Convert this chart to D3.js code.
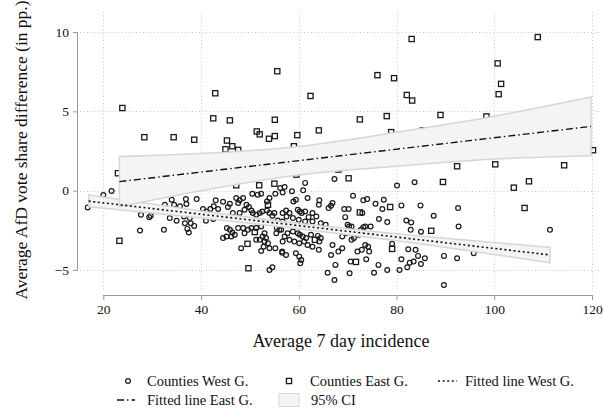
<!DOCTYPE html>
<html><head><meta charset="utf-8">
<script src="https://cdn.jsdelivr.net/npm/d3@7"></script>
<style>body{margin:0;background:#fff}svg{display:block}text{font-family:"Liberation Serif","Times New Roman",serif;fill:#111}</style>
</head><body><svg id="c" width="604" height="408"></svg>
<script>
const xTicks = [20, 40, 60, 80, 100, 120];
const yTicks = [-5, 0, 5, 10];
const yTickLabels = ["\u22125", "0", "5", "10"];

const westX = [16.8,20.0,21.7,27.7,29.4,29.7,27.5,32.4,33.6,35.0,34.0,32.6,34.5,35.7,36.9,37.0,39.1,36.5,37.7,36.7,37.9,38.6,37.2,37.5,40.4,41.1,42.5,41.0,
50.5,51.6,52.3,54.0,53.5,55.2,56.2,47.2,47.9,48.6,47.6,49.3,45.9,45.5,44.5,43.0,42.6,43.5,41.9,46.5,47.9,48.9,49.8,50.3,50.6,51.3,52.0,52.5,53.5,54.0,54.6,55.0,55.7,56.4,56.7,
45.3,45.9,46.4,46.9,44.5,45.2,46.2,47.6,48.6,48.9,49.6,50.3,51.3,52.3,53.0,52.6,53.3,53.0,53.7,52.8,52.3,54.0,55.2,56.6,56.0,55.4,55.5,48.2,51.3,52.0,54.0,54.6,
61.3,57.1,56.7,58.6,60.9,61.8,58.9,59.4,64.2,64.1,66.9,66.6,66.1,71.1,73.2,74.0,69.3,70.2,69.5,73.0,
56.7,57.4,58.1,57.5,59.8,60.2,60.6,61.3,62.0,62.8,63.6,58.8,60.0,61.3,62.8,64.5,65.5,64.9,
56.4,57.1,57.7,58.8,59.8,60.2,60.8,61.5,62.5,63.9,64.5,64.2,62.8,61.8,61.1,60.1,59.1,58.1,56.7,56.6,57.4,59.4,60.1,60.5,60.3,64.1,
66.9,66.6,68.1,68.9,65.9,67.5,67.3,68.9,69.6,70.3,70.0,70.8,71.1,71.3,70.8,72.3,72.7,73.2,73.6,74.2,74.4,72.9,73.8,70.6,70.4,72.0,74.7,73.6,67.3,
80.1,83.7,75.7,77.4,77.1,81.0,84.9,87.6,92.6,76.4,78.1,82.0,83.0,82.9,85.0,92.7,79.1,82.4,83.9,84.4,85.8,81.0,82.7,83.5,85.0,82.2,80.6,78.1,76.3,75.4,89.7,92.4,89.7,95.8,111.4];
const westY = [-1.06,-0.27,-0.02,-1.52,-1.67,-1.58,-2.51,-2.47,-1.73,-1.90,-0.57,-0.89,-0.89,-0.99,-0.53,-0.84,-0.53,-1.63,-1.73,-2.05,-2.05,-2.22,-2.41,-2.64,-1.16,-1.31,-1.79,-1.90,
-0.19,-0.25,-0.19,-0.46,-0.68,-0.19,0.17,-0.46,-0.61,-0.46,-0.78,-0.89,-0.82,-1.03,-0.70,-0.61,-0.99,-1.16,-1.16,-1.41,-1.41,-1.20,-1.03,-1.25,-1.41,-1.52,-1.41,-1.31,-1.25,-1.41,-1.58,-1.41,-1.88,-2.15,-1.94,
-2.36,-2.47,-2.64,-2.78,-2.99,-2.89,-2.89,-2.36,-2.36,-2.68,-2.47,-2.36,-2.36,-2.26,-2.68,-2.89,-2.99,-3.21,-3.31,-3.53,-3.80,-3.63,-3.63,-3.91,-2.47,-2.68,-2.36,-3.63,-3.10,-3.10,-5.00,-4.83,
0.49,0.23,-0.11,-0.04,0.02,-0.46,-0.68,-0.57,-0.61,-0.89,-0.78,-0.95,-1.10,-0.32,-0.61,-0.53,-1.16,-1.16,-1.67,-1.41,
-1.41,-1.25,-1.41,-1.63,-1.20,-1.31,-1.41,-1.31,-1.67,-1.41,-1.63,-1.73,-1.84,-1.94,-1.94,-2.05,-2.15,-2.36,
-2.47,-2.89,-2.68,-2.57,-2.68,-2.78,-2.89,-2.99,-2.78,-2.85,-2.99,-3.21,-3.53,-3.42,-3.21,-3.31,-3.21,-3.10,-3.21,-3.84,-4.05,-3.94,-4.16,-4.37,-4.58,-3.73,
-3.42,-4.05,-3.84,-3.63,-5.17,-4.68,-5.63,-2.89,-2.68,-2.26,-2.15,-2.26,-2.57,-2.99,-3.10,-2.78,-2.47,-2.30,-3.42,-3.53,-3.84,-3.73,-4.32,-4.47,-5.21,-3.84,-2.26,-2.26,0.74,
0.32,0.53,-0.82,-0.57,-1.16,-0.93,-0.93,-1.58,-1.10,-1.79,-1.98,-1.88,-2.00,-2.47,-2.59,-2.26,-3.35,-3.69,-3.73,-4.11,-4.26,-4.32,-4.54,-4.47,-4.62,-4.83,-5.00,-5.00,-4.68,-5.17,-4.11,-4.26,-5.95,-3.94,-2.47];

const eastX = [23.9,42.9,42.5,45.9,28.4,34.4,38.6,45.3,45.0,46.4,47.6,51.4,52.0,55.6,62.4,76.1,79.5,83.1,82.1,83.2,55.1,53.9,55.1,59.7,59.0,64.1,72.5,78.0,78.9,85.4,
108.9,100.7,101.4,100.9,89.0,98.4,92.4,100.2,114.3,120.2,107.1,104.0,106.2,68.1,70.2,89.5,72.5,78.7,87.1,79.1,71.7,59.5,51.9,55.0,47.2,53.7,51.0,49.5,49.7,63.3,23.3,23.0];
const eastY = [5.21,6.14,4.56,4.43,3.37,3.37,3.21,3.16,2.61,2.80,2.57,3.73,3.55,7.53,5.97,7.28,7.09,9.56,6.03,5.68,4.47,3.27,3.44,3.50,2.80,3.80,4.49,4.70,3.69,3.80,
9.68,8.02,6.73,6.08,4.77,4.68,1.54,1.66,1.60,2.55,0.59,0.19,-1.09,1.33,0.78,0.55,-1.37,-1.03,-2.53,-3.67,-4.49,1.01,0.34,0.44,0.34,-0.89,-2.61,-3.35,-4.89,-3.10,-3.16,1.10];

const westFitX = [17, 111.4];
const westFitY = [-0.66, -4.05];
const westCIx = [17, 40, 60, 80, 111.4];
const westLo = [-1.02, -1.72, -2.40, -3.16, -4.54];
const westHi = [-0.28, -1.28, -2.06, -2.72, -3.56];

const eastFitX = [23.3, 119.8];
const eastFitY = [0.57, 4.05];
const eastCIx = [23.3, 40, 60, 80, 100, 119.8];
const eastLo = [-1.01, 0.00, 0.99, 1.54, 1.99, 2.20];
const eastHi = [2.15, 2.34, 2.79, 3.68, 4.69, 5.90];

const legendLabels = ["Counties West G.", "Counties East G.", "Fitted line West G.", "Fitted line East G.", "95% CI"];

const svg = d3.select("#c");
const x = d3.scaleLinear().domain([20, 120]).range([103.3, 592]);
const y = d3.scaleLinear().domain([-5, 10]).range([270, 32]);
const plotL = 78, plotR = 600, plotT = 12, plotB = 290;

// gridlines
const grid = svg.append("g").attr("stroke", "#c8c8c8").attr("stroke-width", 1).attr("stroke-dasharray", "1,2.5");
grid.selectAll("line.h").data(yTicks).join("line").attr("x1", plotL + 2).attr("x2", plotR)
  .attr("y1", d => Math.round(y(d)) + 0.5).attr("y2", d => Math.round(y(d)) + 0.5);
grid.selectAll("line.v").data(xTicks).join("line").attr("y1", plotT).attr("y2", plotB)
  .attr("x1", d => Math.round(x(d)) + 0.5).attr("x2", d => Math.round(x(d)) + 0.5);

// points
svg.append("g").selectAll("circle").data(westX.map((v, i) => [v, westY[i]])).join("circle")
  .attr("cx", d => x(d[0])).attr("cy", d => y(d[1])).attr("r", 2.4)
  .attr("fill", "none").attr("stroke", "#1a1a1a").attr("stroke-width", 1.2);
svg.append("g").selectAll("rect").data(eastX.map((v, i) => [v, eastY[i]])).join("rect")
  .attr("x", d => x(d[0]) - 2.6).attr("y", d => y(d[1]) - 2.6).attr("width", 5.2).attr("height", 5.2)
  .attr("fill", "none").attr("stroke", "#1a1a1a").attr("stroke-width", 1.3);

// CI bands
const area = d3.area().x(d => x(d[0])).y0(d => y(d[1])).y1(d => y(d[2])).curve(d3.curveMonotoneX);
svg.append("path").datum(westCIx.map((v, i) => [v, westLo[i], westHi[i]])).attr("d", area)
  .attr("fill", "#f3f4f4").attr("stroke", "#d6d6d6").attr("stroke-width", 1.5);
svg.append("path").datum(eastCIx.map((v, i) => [v, eastLo[i], eastHi[i]])).attr("d", area)
  .attr("fill", "#f3f4f4").attr("stroke", "#d6d6d6").attr("stroke-width", 1.5);

// fitted lines
const line = d3.line().x(d => x(d[0])).y(d => y(d[1]));
svg.append("path").datum(westFitX.map((v, i) => [v, westFitY[i]])).attr("d", line)
  .attr("fill", "none").attr("stroke", "#111").attr("stroke-width", 1.6).attr("stroke-dasharray", "2,2.6");
svg.append("path").datum(eastFitX.map((v, i) => [v, eastFitY[i]])).attr("d", line)
  .attr("fill", "none").attr("stroke", "#111").attr("stroke-width", 1.4).attr("stroke-dasharray", "7,3,1.5,3");

// axes
const yAxis = svg.append("g").attr("transform", `translate(${plotL},0)`)
  .call(d3.axisLeft(y).tickValues(yTicks).tickFormat((d, i) => yTickLabels[i]).tickSize(5).tickPadding(4));
const xAxis = svg.append("g").attr("transform", `translate(0,295)`)
  .call(d3.axisBottom(x).tickValues(xTicks).tickSize(5).tickPadding(4));
[yAxis, xAxis].forEach(a => {
  a.select(".domain").attr("stroke", "#999");
  a.selectAll(".tick line").attr("stroke", "#999");
  a.selectAll("text").style("font-family", '"Liberation Serif",serif').style("font-size", "13.5px").attr("fill", "#111");
});
yAxis.select(".domain").attr("d", `M-0.5,${y(-5)}V${y(10)}`);
xAxis.select(".domain").attr("d", `M${x(20)},0.5H${x(120)}`);

// titles
svg.append("text").attr("x", 341).attr("y", 347).attr("text-anchor", "middle").style("font-size", "18px").text("Average 7 day incidence");
svg.append("text").attr("transform", "translate(27,150) rotate(-90)").attr("text-anchor", "middle").style("font-size", "17.5px")
  .text("Average AfD vote share difference (in pp.)");

// legend
const lg = svg.append("g").style("font-size", "14.5px");
const r1 = 381, r2 = 400;
lg.append("circle").attr("cx", 128).attr("cy", r1).attr("r", 2.4).attr("fill", "none").attr("stroke", "#1a1a1a").attr("stroke-width", 1.2);
lg.append("text").attr("x", 147).attr("y", r1 + 5).text(legendLabels[0]);
lg.append("rect").attr("x", 286.4).attr("y", r1 - 2.6).attr("width", 5.2).attr("height", 5.2).attr("fill", "none").attr("stroke", "#1a1a1a").attr("stroke-width", 1.3);
lg.append("text").attr("x", 310).attr("y", r1 + 5).text(legendLabels[1]);
lg.append("line").attr("x1", 438).attr("x2", 457).attr("y1", r1).attr("y2", r1).attr("stroke", "#111").attr("stroke-width", 1.6).attr("stroke-dasharray", "2,2.6");
lg.append("text").attr("x", 465).attr("y", r1 + 5).text(legendLabels[2]);
lg.append("line").attr("x1", 117).attr("x2", 135).attr("y1", r2).attr("y2", r2).attr("stroke", "#111").attr("stroke-width", 1.4).attr("stroke-dasharray", "7,3,1.5,3");
lg.append("text").attr("x", 147).attr("y", r2 + 5).text(legendLabels[3]);
lg.append("rect").attr("x", 279).attr("y", r2 - 6.5).attr("width", 20).attr("height", 13).attr("fill", "#f3f4f4").attr("stroke", "#d6d6d6").attr("stroke-width", 1);
lg.append("text").attr("x", 311).attr("y", r2 + 5).text(legendLabels[4]);
</script></body></html>
